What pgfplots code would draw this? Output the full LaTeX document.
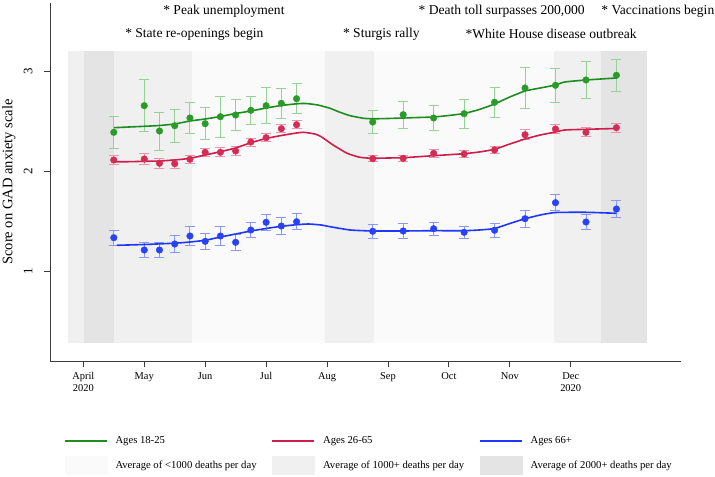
\documentclass[border=0pt]{standalone}
\usepackage{pgfplots}
\pgfplotsset{compat=1.18}
\usepackage{pgfplotstable}
\usepackage{fontspec}
\setmainfont{Liberation Serif}

\definecolor{gline}{RGB}{30,140,30}
\definecolor{gpt}{RGB}{40,155,40}
\definecolor{gerr}{RGB}{150,210,150}
\definecolor{rline}{RGB}{205,30,75}
\definecolor{rpt}{RGB}{212,45,85}
\definecolor{rerr}{RGB}{238,145,170}
\definecolor{bline}{RGB}{30,55,255}
\definecolor{bpt}{RGB}{40,65,250}
\definecolor{berr}{RGB}{140,150,255}
\definecolor{shL}{RGB}{250,250,250}
\definecolor{shM}{RGB}{240,240,240}
\definecolor{shD}{RGB}{228,228,228}
\definecolor{axc}{RGB}{60,60,60}

\pgfplotstableread{
x y e
0.5 2.387 0.158
1.0 2.653 0.262
1.25 2.400 0.190
1.5 2.453 0.167
1.75 2.530 0.153
2.0 2.473 0.160
2.25 2.543 0.205
2.5 2.560 0.153
2.75 2.607 0.140
3.0 2.653 0.178
3.25 2.677 0.148
3.5 2.723 0.150
4.75 2.490 0.113
5.25 2.563 0.137
5.75 2.530 0.123
6.25 2.573 0.145
6.75 2.687 0.153
7.25 2.830 0.203
7.75 2.857 0.170
8.25 2.910 0.183
8.75 2.957 0.158
}\greenpts

\pgfplotstableread{
x y e
0.5 2.110 0.042
1.0 2.120 0.057
1.25 2.077 0.048
1.5 2.073 0.045
1.75 2.117 0.038
2.0 2.187 0.042
2.25 2.187 0.045
2.5 2.200 0.048
2.75 2.290 0.040
3.0 2.333 0.040
3.25 2.423 0.040
3.5 2.463 0.038
4.75 2.123 0.032
5.25 2.127 0.033
5.75 2.177 0.037
6.25 2.170 0.037
6.75 2.210 0.037
7.25 2.363 0.050
7.75 2.420 0.045
8.25 2.387 0.045
8.75 2.433 0.043
}\redpts

\pgfplotstableread{
x y e
0.5 1.333 0.075
1.0 1.210 0.073
1.25 1.210 0.073
1.5 1.270 0.088
1.75 1.350 0.093
2.0 1.297 0.080
2.25 1.350 0.093
2.5 1.287 0.078
2.75 1.410 0.077
3.0 1.487 0.077
3.25 1.450 0.085
3.5 1.493 0.082
4.75 1.397 0.068
5.25 1.400 0.072
5.75 1.423 0.065
6.25 1.387 0.060
6.75 1.407 0.067
7.25 1.523 0.085
7.75 1.683 0.080
8.25 1.490 0.073
8.75 1.620 0.088
}\bluepts

\pgfplotstableread{
x y
0.5 2.433
0.75 2.440
1.0 2.447
1.25 2.455
1.5 2.470
1.75 2.500
2.0 2.520
2.25 2.545
2.5 2.575
2.75 2.600
3.0 2.630
3.25 2.655
3.5 2.672
3.65 2.675
3.85 2.660
4.05 2.627
4.2 2.590
4.38 2.553
4.6 2.527
4.75 2.522
5.0 2.525
5.25 2.530
5.5 2.535
5.75 2.540
6.0 2.555
6.25 2.575
6.5 2.615
6.75 2.670
7.0 2.740
7.25 2.800
7.5 2.830
7.75 2.860
7.9 2.890
8.25 2.910
8.75 2.930
}\greenline

\pgfplotstableread{
x y
0.5 2.093
0.75 2.093
1.0 2.097
1.25 2.100
1.5 2.110
1.75 2.127
2.0 2.160
2.25 2.193
2.5 2.230
2.75 2.283
3.0 2.325
3.25 2.355
3.5 2.380
3.62 2.387
3.8 2.370
3.9 2.345
4.1 2.260
4.33 2.177
4.54 2.137
4.75 2.127
5.0 2.130
5.25 2.133
5.75 2.153
6.25 2.173
6.5 2.190
6.75 2.217
7.0 2.270
7.25 2.320
7.5 2.360
7.75 2.390
7.9 2.410
8.25 2.417
8.75 2.425
}\redline

\pgfplotstableread{
x y
0.55 1.257
1.0 1.265
1.5 1.278
1.75 1.290
2.0 1.307
2.25 1.340
2.5 1.370
2.75 1.400
3.0 1.425
3.25 1.447
3.5 1.463
3.7 1.470
3.9 1.460
4.05 1.443
4.38 1.410
4.75 1.400
5.25 1.400
5.75 1.403
6.25 1.403
6.5 1.410
6.75 1.425
7.0 1.475
7.25 1.523
7.5 1.560
7.75 1.585
8.25 1.587
8.75 1.577
}\blueline

\begin{document}
\begin{tikzpicture}
\begin{axis}[
  scale only axis,
  width=631bp, height=358bp,
  at={(0,0)}, anchor=south west,
  xmin=-0.547, xmax=9.81,
  ymin=0.1, ymax=3.68,
  axis lines*=left,
  axis line style={axc, line width=0.8bp, -},
  tick style={axc, line width=0.8bp},
  tick align=outside,
  major tick length=6bp,
  xtick={0,1,2,3,4,5,6,7,8},
  xticklabels={{April\\2020},May,Jun,Jul,Aug,Sep,Oct,Nov,{Dec\\2020}},
  xticklabel style={align=center, font=\fontsize{10.5}{12}\selectfont, yshift=-2bp},
  ytick={1,2,3},
  yticklabel style={xshift=-8bp, rotate=90, font=\fontsize{13}{14}\selectfont, anchor=south},
  /pgf/number format/assume math mode=true,
  ylabel={Score on GAD anxiety scale},
  ylabel style={font=\fontsize{14.6}{17}\selectfont, at={(axis description cs:-0.065,0.5)}, anchor=center, rotate=0},
  clip=false,
  legend style={draw=none, fill=none, at={(axis description cs:0.017,-0.20)}, anchor=north west,
    legend columns=3, font=\fontsize{10.7}{12}\selectfont,
    /tikz/every even column/.append style={column sep=0bp},
    /tikz/every odd column/.append style={column sep=6bp},
    row sep=9bp},
  legend cell align=left,
]
% background shading
\fill[shM] (axis cs:-0.246,0.283) rectangle (axis cs:0.011,3.203);
\fill[shD] (axis cs:0.011,0.283) rectangle (axis cs:0.504,3.203);
\fill[shM] (axis cs:0.504,0.283) rectangle (axis cs:1.785,3.203);
\fill[shL] (axis cs:1.785,0.283) rectangle (axis cs:3.974,3.203);
\fill[shM] (axis cs:3.974,0.283) rectangle (axis cs:4.778,3.203);
\fill[shL] (axis cs:4.778,0.283) rectangle (axis cs:7.73,3.203);
\fill[shM] (axis cs:7.73,0.283) rectangle (axis cs:8.50,3.203);
\fill[shD] (axis cs:8.50,0.283) rectangle (axis cs:9.25,3.203);

% points with error bars
\addplot[forget plot, only marks, mark=*, mark size=3.3bp, color=gpt,
  error bars/.cd, y dir=both, y explicit,
  error bar style={color=gerr, line width=0.9bp},
  error mark options={rotate=90, mark size=5bp, color=gerr, line width=0.9bp}]
  table[x=x, y=y, y error=e] {\greenpts};
\addplot[forget plot, only marks, mark=*, mark size=3.3bp, color=rpt,
  error bars/.cd, y dir=both, y explicit,
  error bar style={color=rerr, line width=0.9bp},
  error mark options={rotate=90, mark size=5bp, color=rerr, line width=0.9bp}]
  table[x=x, y=y, y error=e] {\redpts};
\addplot[forget plot, only marks, mark=*, mark size=3.3bp, color=bpt,
  error bars/.cd, y dir=both, y explicit,
  error bar style={color=berr, line width=0.9bp},
  error mark options={rotate=90, mark size=5bp, color=berr, line width=0.9bp}]
  table[x=x, y=y, y error=e] {\bluepts};

% smoothed lines
\addplot[forget plot, gline, line width=1.6bp, no marks, smooth, tension=0.3] table[x=x,y=y] {\greenline};
\addplot[forget plot, rline, line width=1.6bp, no marks, smooth, tension=0.3] table[x=x,y=y] {\redline};
\addplot[forget plot, bline, line width=1.6bp, no marks, smooth, tension=0.3] table[x=x,y=y] {\blueline};

\addlegendimage{legend image code/.code={\draw[gline, line width=1.6bp] (0bp,0bp) -- (42bp,0bp);}}
\addlegendentry{\makebox[154bp][l]{Ages 18-25}}
\addlegendimage{legend image code/.code={\draw[rline, line width=1.6bp] (0bp,0bp) -- (42bp,0bp);}}
\addlegendentry{\makebox[154bp][l]{Ages 26-65}}
\addlegendimage{legend image code/.code={\draw[bline, line width=1.6bp] (0bp,0bp) -- (42bp,0bp);}}
\addlegendentry{\makebox[154bp][l]{Ages 66+}}
\addlegendimage{legend image code/.code={\fill[shL] (0bp,-9bp) rectangle (42bp,9bp);}}
\addlegendentry{\makebox[154bp][l]{Average of <1000 deaths per day}}
\addlegendimage{legend image code/.code={\fill[shM] (0bp,-9bp) rectangle (42bp,9bp);}}
\addlegendentry{\makebox[154bp][l]{Average of 1000+ deaths per day}}
\addlegendimage{legend image code/.code={\fill[shD] (0bp,-9bp) rectangle (42bp,9bp);}}
\addlegendentry{\makebox[154bp][l]{Average of 2000+ deaths per day}}

% annotations
\begin{scope}[every node/.style={font=\fontsize{13.6}{16}\selectfont, anchor=west, inner sep=0pt}]
\node at (axis cs:1.31,3.60) {* Peak unemployment};
\node at (axis cs:0.685,3.37) {* State re-openings begin};
\node at (axis cs:4.26,3.37) {* Sturgis rally};
\node at (axis cs:6.27,3.37) {*White House disease outbreak};
\node at (axis cs:5.50,3.60) {* Death toll surpasses 200,000};
\node at (axis cs:8.50,3.60) {* Vaccinations begin};
\end{scope}
\end{axis}
\pgfresetboundingbox
\path[use as bounding box] (-50bp,-116bp) rectangle (665bp,361bp);
\end{tikzpicture}
\end{document}
